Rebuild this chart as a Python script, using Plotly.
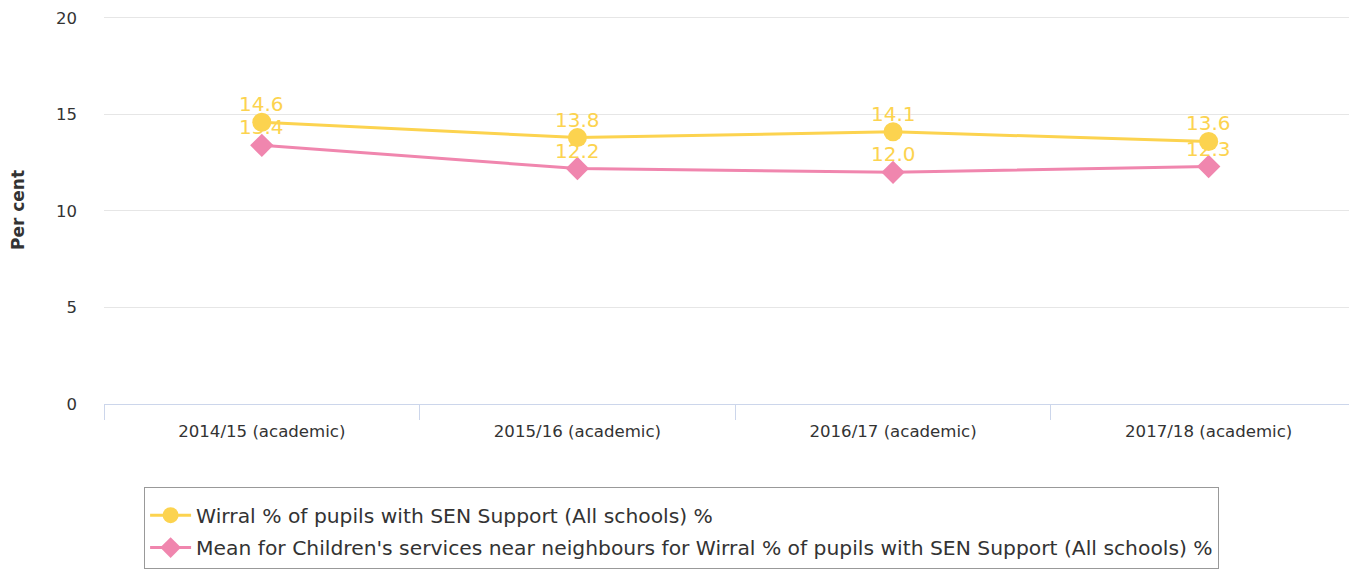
import plotly.graph_objects as go

categories = ["2014/15 (academic)", "2015/16 (academic)", "2016/17 (academic)", "2017/18 (academic)"]
wirral = [14.6, 13.8, 14.1, 13.6]
neighbours = [13.4, 12.2, 12.0, 12.3]
name_wirral = "Wirral % of pupils with SEN Support (All schools) %"
name_neigh = "Mean for Children's services near neighbours for Wirral % of pupils with SEN Support (All schools) %"

YELLOW = "#fcd34f"
PINK = "#f086ae"
FONT = "DejaVu Sans"

fig = go.Figure()
fig.add_trace(go.Scatter(
    x=categories, y=wirral, name=name_wirral, mode="lines+markers", legendgroup="g1",
    line=dict(color=YELLOW, width=3), marker=dict(symbol="circle", size=19, color=YELLOW),
    cliponaxis=False,
))
fig.add_trace(go.Scatter(
    x=categories, y=neighbours, name=name_neigh, mode="lines+markers", legendgroup="g2",
    line=dict(color=PINK, width=3), marker=dict(symbol="diamond", size=18, color=PINK),
    cliponaxis=False,
))

for series in (wirral, neighbours):
    for c, v in zip(categories, series):
        fig.add_annotation(x=c, y=v, text=f"{v:.1f}", showarrow=False, yshift=18,
                           font=dict(color=YELLOW, size=20, family=FONT))

fig.update_layout(
    width=1349, height=563,
    margin=dict(l=96, r=0, t=8, b=167),
    plot_bgcolor="white", paper_bgcolor="white",
    font=dict(family=FONT, color="#333333"),
    showlegend=True,
    legend=dict(
        x=0.032, y=-0.213, xanchor="left", yanchor="top",
        bordercolor="#999999", borderwidth=1,
        font=dict(size=20.3, color="#333333", family=FONT),
        title=dict(text=" ", font=dict(size=6)),
        tracegroupgap=3, itemwidth=41,
    ),
)
fig.update_xaxes(
    type="category", range=[-0.5, 3.47],
    showgrid=False, showline=True, linecolor="#ccd6eb", linewidth=1,
    ticks="outside", tickson="boundaries", ticklen=15, tickcolor="#ccd6eb",
    ticklabelstandoff=12,
    tickfont=dict(size=16.6, color="#333333", family=FONT),
    zeroline=False,
)
fig.update_yaxes(
    range=[0, 20.1], tickvals=[0, 5, 10, 15, 20], showgrid=True, gridcolor="#e6e6e6",
    zeroline=False, showline=False, ticks="", ticklabelstandoff=26,
    tickfont=dict(size=16.5, color="#333333", family=FONT),
    title=dict(text="<b>Per cent</b>", font=dict(size=17, color="#333333", family=FONT), standoff=28),
)

fig.write_html("out.html")
